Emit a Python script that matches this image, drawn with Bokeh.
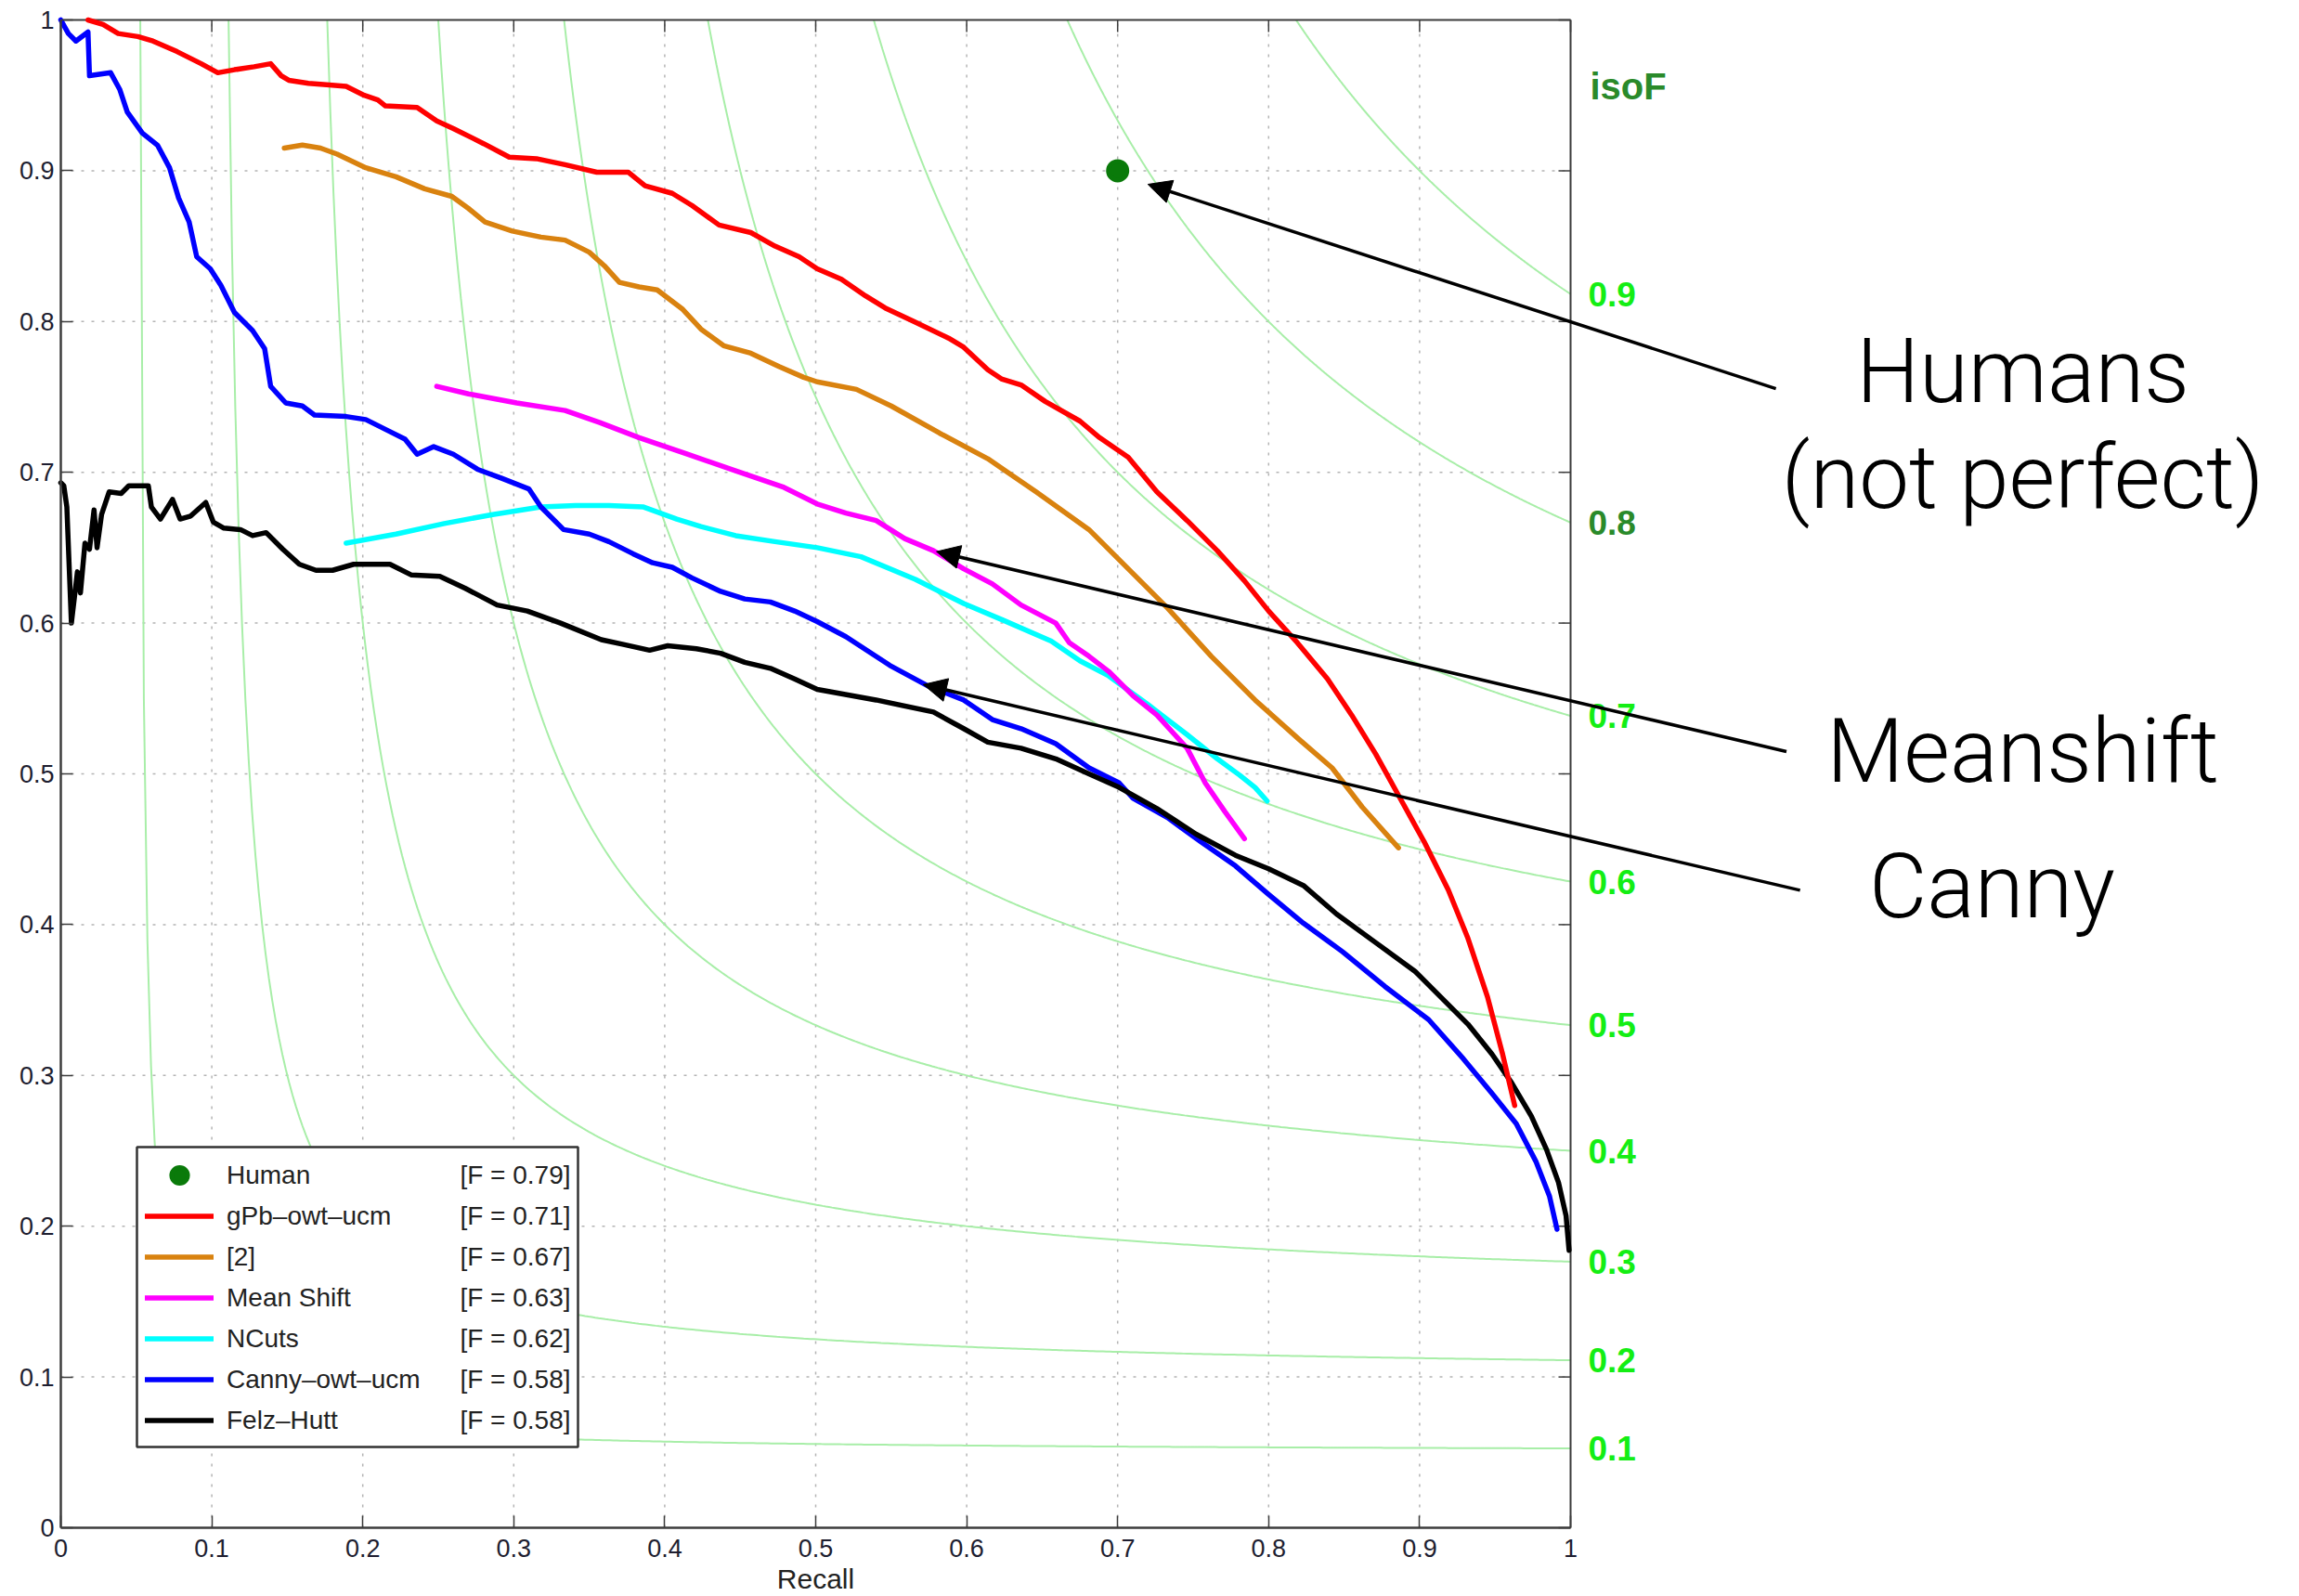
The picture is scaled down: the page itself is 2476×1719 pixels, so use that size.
import numpy as np
from bokeh.plotting import figure
from bokeh.models import (FixedTicker, Legend, LegendItem, Label, Arrow, NormalHead, Range1d)
from bokeh.embed import file_html
from bokeh.resources import INLINE

# ---------------- data ----------------
TICKS = [0, 0.1, 0.2, 0.3, 0.4, 0.5, 0.6, 0.7, 0.8, 0.9, 1]
TICK_LABELS = ["0", "0.1", "0.2", "0.3", "0.4", "0.5", "0.6", "0.7", "0.8", "0.9", "1"]
ISO_F = [0.1, 0.2, 0.3, 0.4, 0.5, 0.6, 0.7, 0.8, 0.9]
ISO_F_LABELS = ["0.1", "0.2", "0.3", "0.4", "0.5", "0.6", "0.7", "0.8", "0.9"]

HUMAN_R = [0.70]
HUMAN_P = [0.90]

GPB_R = [0.018, 0.028, 0.038, 0.051, 0.061, 0.077, 0.093, 0.104, 0.115, 0.128, 0.139, 0.146, 0.151,
         0.164, 0.176, 0.189, 0.201, 0.210, 0.215, 0.236, 0.249, 0.260, 0.280, 0.297, 0.315, 0.334,
         0.355, 0.376, 0.387, 0.405, 0.418, 0.436, 0.457, 0.473, 0.489, 0.501, 0.517, 0.533, 0.546,
         0.565, 0.588, 0.598, 0.614, 0.623, 0.636, 0.652, 0.675, 0.688, 0.707, 0.726, 0.746, 0.766,
         0.784, 0.800, 0.819, 0.839, 0.855, 0.871, 0.887, 0.903, 0.919, 0.932, 0.945, 0.955, 0.963]
GPB_P = [1.000, 0.997, 0.991, 0.989, 0.986, 0.979, 0.971, 0.965, 0.967, 0.969, 0.971, 0.963, 0.960,
         0.958, 0.957, 0.956, 0.950, 0.947, 0.943, 0.942, 0.933, 0.928, 0.918, 0.909, 0.908, 0.904,
         0.899, 0.899, 0.890, 0.885, 0.877, 0.864, 0.859, 0.850, 0.843, 0.835, 0.828, 0.817, 0.809,
         0.800, 0.789, 0.783, 0.768, 0.762, 0.758, 0.747, 0.734, 0.723, 0.710, 0.687, 0.668, 0.648,
         0.628, 0.608, 0.587, 0.563, 0.539, 0.513, 0.484, 0.455, 0.423, 0.391, 0.352, 0.314, 0.280]

REF2_R = [0.148, 0.160, 0.172, 0.183, 0.202, 0.222, 0.241, 0.259, 0.270, 0.281, 0.299, 0.318, 0.334,
          0.350, 0.360, 0.370, 0.383, 0.395, 0.412, 0.424, 0.439, 0.457, 0.476, 0.492, 0.501, 0.527,
          0.550, 0.582, 0.614, 0.646, 0.681, 0.707, 0.733, 0.762, 0.791, 0.820, 0.842, 0.862, 0.886]
REF2_P = [0.915, 0.917, 0.915, 0.911, 0.902, 0.896, 0.888, 0.883, 0.875, 0.866, 0.860, 0.856, 0.854,
          0.846, 0.837, 0.826, 0.823, 0.821, 0.808, 0.795, 0.784, 0.779, 0.770, 0.763, 0.760, 0.755,
          0.744, 0.726, 0.709, 0.687, 0.662, 0.636, 0.610, 0.578, 0.549, 0.523, 0.504, 0.478, 0.451]

MS_R = [0.249, 0.270, 0.302, 0.334, 0.357, 0.383, 0.415, 0.447, 0.479, 0.501, 0.520, 0.540, 0.559,
        0.578, 0.598, 0.617, 0.636, 0.659, 0.668, 0.681, 0.694, 0.710, 0.726, 0.746, 0.758, 0.771, 0.784]
MS_P = [0.757, 0.752, 0.746, 0.741, 0.733, 0.723, 0.712, 0.701, 0.690, 0.679, 0.673, 0.668, 0.656,
        0.648, 0.636, 0.626, 0.612, 0.600, 0.587, 0.578, 0.568, 0.552, 0.539, 0.517, 0.494, 0.475, 0.457]

NC_R = [0.189, 0.222, 0.254, 0.286, 0.318, 0.341, 0.363, 0.386, 0.408, 0.424, 0.447, 0.473, 0.501,
        0.530, 0.566, 0.598, 0.624, 0.656, 0.675, 0.694, 0.720, 0.746, 0.766, 0.781, 0.791, 0.799]
NC_P = [0.653, 0.659, 0.666, 0.672, 0.677, 0.678, 0.678, 0.677, 0.669, 0.664, 0.658, 0.654, 0.650,
        0.644, 0.629, 0.613, 0.602, 0.588, 0.575, 0.565, 0.546, 0.526, 0.510, 0.499, 0.491, 0.482]

CANNY_R = [0.000, 0.005, 0.010, 0.018, 0.019, 0.033, 0.039, 0.044, 0.054, 0.064, 0.072, 0.078, 0.085,
           0.090, 0.099, 0.106, 0.115, 0.127, 0.135, 0.139, 0.149, 0.160, 0.168, 0.189, 0.202, 0.218,
           0.228, 0.236, 0.247, 0.260, 0.276, 0.292, 0.310, 0.318, 0.333, 0.350, 0.363, 0.379, 0.392,
           0.405, 0.418, 0.437, 0.453, 0.470, 0.486, 0.501, 0.520, 0.549, 0.575, 0.598, 0.617, 0.636,
           0.659, 0.681, 0.701, 0.710, 0.733, 0.755, 0.778, 0.800, 0.823, 0.849, 0.877, 0.906, 0.929,
           0.948, 0.964, 0.977, 0.986, 0.991]
CANNY_P = [1.000, 0.991, 0.986, 0.992, 0.963, 0.965, 0.954, 0.939, 0.925, 0.917, 0.902, 0.882, 0.866,
           0.843, 0.835, 0.824, 0.806, 0.794, 0.782, 0.757, 0.746, 0.744, 0.738, 0.737, 0.735, 0.727,
           0.722, 0.712, 0.717, 0.712, 0.702, 0.696, 0.689, 0.677, 0.662, 0.659, 0.654, 0.646, 0.640,
           0.637, 0.630, 0.621, 0.616, 0.614, 0.608, 0.601, 0.591, 0.572, 0.558, 0.549, 0.536, 0.530,
           0.520, 0.504, 0.494, 0.484, 0.471, 0.455, 0.439, 0.420, 0.401, 0.382, 0.359, 0.337, 0.311,
           0.288, 0.268, 0.243, 0.220, 0.198]

FH_R = [0.000, 0.002, 0.004, 0.007, 0.011, 0.013, 0.016, 0.019, 0.022, 0.024, 0.027, 0.032, 0.040,
        0.045, 0.058, 0.060, 0.066, 0.074, 0.079, 0.086, 0.096, 0.101, 0.108, 0.119, 0.127, 0.136,
        0.147, 0.158, 0.169, 0.180, 0.194, 0.218, 0.232, 0.251, 0.268, 0.289, 0.309, 0.331, 0.358,
        0.372, 0.390, 0.402, 0.421, 0.437, 0.453, 0.470, 0.486, 0.501, 0.540, 0.578, 0.598, 0.614,
        0.636, 0.659, 0.681, 0.701, 0.726, 0.752, 0.778, 0.800, 0.823, 0.845, 0.871, 0.897, 0.916,
        0.932, 0.948, 0.961, 0.974, 0.984, 0.992, 0.997, 0.999]
FH_P = [0.693, 0.691, 0.677, 0.600, 0.634, 0.620, 0.653, 0.649, 0.675, 0.650, 0.672, 0.687, 0.686,
        0.691, 0.691, 0.677, 0.669, 0.682, 0.669, 0.671, 0.680, 0.667, 0.663, 0.662, 0.658, 0.660,
        0.649, 0.639, 0.635, 0.635, 0.639, 0.639, 0.632, 0.631, 0.623, 0.612, 0.608, 0.600, 0.589,
        0.586, 0.582, 0.585, 0.583, 0.580, 0.574, 0.570, 0.563, 0.556, 0.549, 0.541, 0.530, 0.521,
        0.517, 0.510, 0.500, 0.491, 0.477, 0.460, 0.446, 0.437, 0.426, 0.407, 0.388, 0.369, 0.350,
        0.334, 0.314, 0.295, 0.273, 0.251, 0.229, 0.207, 0.184]

NAMES = ["Human", "gPb\u2013owt\u2013ucm", "[2]", "Mean Shift", "NCuts", "Canny\u2013owt\u2013ucm", "Felz\u2013Hutt"]
F_SCORES = ["[F = 0.79]", "[F = 0.71]", "[F = 0.67]", "[F = 0.63]", "[F = 0.62]", "[F = 0.58]", "[F = 0.58]"]
COLORS = ["#0a7a0a", "#ff0000", "#d9820f", "#ff00ff", "#00ffff", "#0000ff", "#000000"]

for a, b in [(GPB_R, GPB_P), (REF2_R, REF2_P), (MS_R, MS_P), (NC_R, NC_P),
             (CANNY_R, CANNY_P), (FH_R, FH_P)]:
    assert len(a) == len(b)

# ---------------- layout ----------------
W, H = 2476, 1719
X0_PX, Y1_PX, Y0_PX = 65, 21, 1645   # canvas px of x=0, y=1, y=0
PX_X = 1626.0                         # px per unit recall
PX_Y = float(Y0_PX - Y1_PX)           # px per unit precision

AXIS_COL = "#3c3c3c"
LABEL_COL = "#1e1e30"
TICK_FONT = "Liberation Sans"
ANN_FONT = "Roboto Light"


def ypx(page_y):
    """vertical canvas px -> data y"""
    return (Y0_PX - page_y) / PX_Y


# The frame covers the whole canvas so that call-outs to the right of the
# data box are not clipped; the data box [0,1] x [0,1] sits inside it.
x_start = -X0_PX / PX_X
x_end = (W - X0_PX) / PX_X
y_end = 1 + Y1_PX / PX_Y
y_start = -(H - Y0_PX) / PX_Y

p = figure(width=W, height=H, x_range=Range1d(x_start, x_end), y_range=Range1d(y_start, y_end),
           output_backend="svg", toolbar_location=None,
           min_border_left=0, min_border_right=0, min_border_top=0, min_border_bottom=0)
p.background_fill_color = "white"
p.border_fill_color = "white"
p.outline_line_color = None
p.xgrid.visible = False
p.ygrid.visible = False

for ax in (p.xaxis[0], p.yaxis[0]):
    ax.ticker = FixedTicker(ticks=TICKS)
    ax.bounds = (0, 1)
    ax.fixed_location = 0
    ax.major_label_overrides = dict(zip(TICKS, TICK_LABELS))
    ax.major_tick_in = 13
    ax.major_tick_out = 0
    ax.minor_tick_in = 0
    ax.minor_tick_out = 0
    ax.axis_line_color = AXIS_COL
    ax.axis_line_width = 2.5
    ax.major_tick_line_color = AXIS_COL
    ax.major_tick_line_width = 1.5
    ax.major_label_text_font = TICK_FONT
    ax.major_label_text_font_size = "27px"
    ax.major_label_text_color = LABEL_COL
p.yaxis[0].major_label_standoff = 7
p.xaxis[0].major_label_standoff = 12

inner = TICKS[1:-1]
# dotted grid inside the data box
p.segment(x0=inner, y0=[0] * len(inner), x1=inner, y1=[1] * len(inner),
          line_color="#b4b4b4", line_dash="3 8", line_width=1.5)
p.segment(x0=[0] * len(inner), y0=inner, x1=[1] * len(inner), y1=inner,
          line_color="#b4b4b4", line_dash="3 8", line_width=1.5)

# iso-F contours (F = 2PR/(P+R))
for f in ISO_F:
    r = np.linspace(f / (2 - f), 1, 400)
    p.line(r, f * r / (2 * r - f), line_color="#a8eea8", line_width=2)

# top and right edges of the box, with inward ticks
p.segment(x0=[0, 1], y0=[1, 0], x1=[1, 1], y1=[1, 1], line_color=AXIS_COL, line_width=2)
tx = 13 / PX_X
ty = 13 / PX_Y
p.segment(x0=TICKS, y0=[1] * len(TICKS), x1=TICKS, y1=[1 - ty] * len(TICKS),
          line_color=AXIS_COL, line_width=1.5)
p.segment(x0=[1] * len(TICKS), y0=TICKS, x1=[1 - tx] * len(TICKS), y1=TICKS,
          line_color=AXIS_COL, line_width=1.5)

# legend geometry (px, relative to the x=0 / y=0 corner of the data box)
PAD, ROW, SP = 8, 43, 1
GLYPH_W, STANDOFF, LABEL_W = 78, 14, 367
LEG_X, LEG_Y = 82, 87
box_w = 2 * PAD + GLYPH_W + STANDOFF + LABEL_W
box_h = 2 * PAD + 7 * ROW + 6 * SP

# white legend box drawn as a glyph, so the iso-F lines stay beneath it
p.quad(left=[LEG_X / PX_X], right=[(LEG_X + box_w) / PX_X],
       bottom=[LEG_Y / PX_Y], top=[(LEG_Y + box_h) / PX_Y],
       fill_color="white", line_color="#333333", line_width=2.5)

LW = 5.5
series = [(NC_R, NC_P, 4), (MS_R, MS_P, 3), (CANNY_R, CANNY_P, 5), (FH_R, FH_P, 6),
          (REF2_R, REF2_P, 2), (GPB_R, GPB_P, 1)]
rends = {}
for R, P, i in series:
    rends[i] = p.line(R, P, line_color=COLORS[i], line_width=LW, line_join="round", line_cap="round")
rends[0] = p.scatter(HUMAN_R, HUMAN_P, size=20, fill_color=COLORS[0], line_color=COLORS[0],
                     line_width=5)

legend = Legend(items=[LegendItem(label=NAMES[i], renderers=[rends[i]]) for i in range(7)],
                location=(X0_PX + LEG_X + 9, LEG_Y + (H - Y0_PX) + 7), orientation="vertical",
                padding=PAD, spacing=SP, margin=0,
                glyph_width=GLYPH_W - 4, glyph_height=ROW, label_height=ROW, label_width=LABEL_W - 20,
                label_standoff=STANDOFF, label_text_font=TICK_FONT, label_text_font_size="28px",
                label_text_color="#222222", label_text_baseline="middle",
                border_line_color=None, background_fill_alpha=0.0)
p.add_layout(legend, "center")
for i, txt in enumerate(F_SCORES):
    yc = LEG_Y + box_h - PAD - ROW / 2 - i * (ROW + SP)
    p.add_layout(Label(x=(LEG_X + 467) / PX_X, y=yc / PX_Y, text=txt, text_align="right",
                       text_baseline="middle", text_font=TICK_FONT, text_font_size="28px",
                       text_color="#222222"))

# iso-F labels on the right
for f, t in zip(ISO_F, ISO_F_LABELS):
    p.add_layout(Label(x=1, y=f / (2 - f), x_offset=19, text=t, text_align="left",
                       text_baseline="middle", text_font=TICK_FONT, text_font_style="bold",
                       text_font_size="37px",
                       text_color="#2a8a2a" if t == "0.8" else "#14ee14"))
p.add_layout(Label(x=1, y=0.956, x_offset=21, text="isoF", text_align="left", text_baseline="middle",
                   text_font=TICK_FONT, text_font_style="bold", text_font_size="40px",
                   text_color="#2a8a2a"))

# axis title
p.add_layout(Label(x=0.5, y=ypx(1700), text="Recall", text_align="center", text_baseline="middle",
                   text_font=TICK_FONT, text_font_size="30px", text_color="#222222"))

# call-outs (vertical centres in canvas px)
for txt, x, yc in [("Humans", 1.2995, 399), ("(not perfect)", 1.2995, 513),
                   ("Meanshift", 1.2995, 808), ("Canny", 1.2792, 954)]:
    p.add_layout(Label(x=x, y=ypx(yc), text=txt, text_align="center", text_baseline="middle",
                       text_font=ANN_FONT, text_font_size="96px", text_color="black"))

for xs, ys, xe, ye in [(1.136, 0.7555, 0.720, 0.891), (1.143, 0.5148, 0.580, 0.6474),
                       (1.152, 0.4228, 0.5713, 0.5592)]:
    p.add_layout(Arrow(end=NormalHead(size=25, fill_color="black", line_color="black", line_width=1),
                       x_start=xs, y_start=ys, x_end=xe, y_end=ye, line_width=3.5, line_color="black"))

open("out.html", "w").write(file_html(p, INLINE))
